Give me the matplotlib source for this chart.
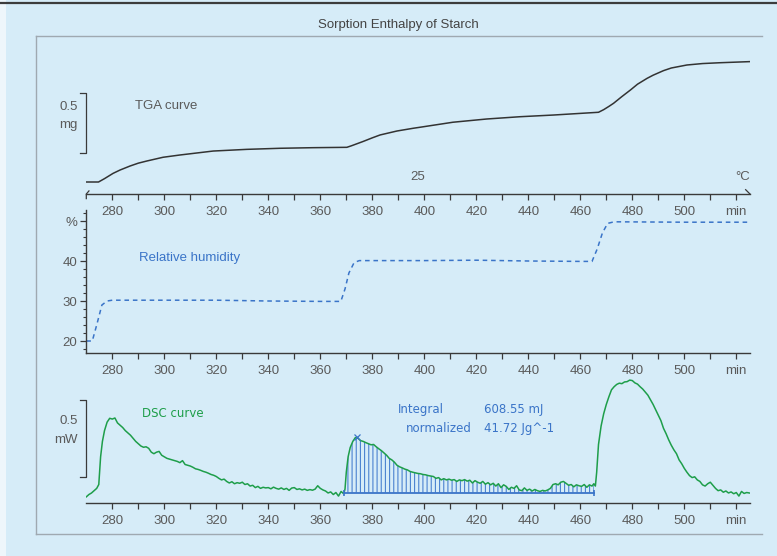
import numpy as np
import matplotlib
matplotlib.use("Agg")
import matplotlib.pyplot as plt
from matplotlib.lines import Line2D
from matplotlib.patches import Rectangle

plt.rcParams['font.family'] = ['Liberation Sans', 'DejaVu Sans']
plt.rcParams['hatch.linewidth'] = 0.8

# ---------------- data ----------------
tga_t = [270, 274.7, 277, 280.3, 283, 286.8, 290, 293.3, 299.5, 306, 318.8, 331.7, 344.5,
         357.3, 370.2, 372, 374, 376.5, 380, 383, 389.5, 395.8, 398.3, 411, 424, 436.8,
         449.6, 467, 469, 471, 472.8, 476, 479.3, 482, 485.7, 488, 492, 495, 501, 507,
         513.8, 525]
tga_mg = [0.0, 0.0, 0.028, 0.072, 0.100, 0.133, 0.157, 0.175, 0.206, 0.225, 0.258, 0.272,
          0.281, 0.286, 0.289, 0.302, 0.318, 0.338, 0.368, 0.392, 0.425, 0.448, 0.456,
          0.498, 0.525, 0.544, 0.558, 0.581, 0.603, 0.630, 0.656, 0.712, 0.767, 0.815,
          0.864, 0.890, 0.928, 0.950, 0.975, 0.987, 0.994, 1.003]

rh_t = [270, 272.3, 274, 276, 278, 280, 300, 320, 340, 360, 367.9, 369.5, 371, 373, 375,
        400, 420, 440, 460, 464.5, 466.5, 468.5, 470.5, 473, 500, 525]
rh_pct = [20, 20, 24, 29, 30.0, 30.2, 30.2, 30.2, 30.0, 29.9, 29.9, 33, 37, 39.6, 40.1,
          40.1, 40.2, 40.0, 39.9, 39.9, 43, 47, 49.4, 49.8, 49.7, 49.7]

dsc_t = [270, 271, 272, 273, 274, 274.8, 275.5, 276.2, 277, 278, 279, 280, 281, 282, 283,
         284, 285, 286, 287, 288, 289, 290, 291, 292, 293, 294, 295, 296, 297, 298, 299,
         300, 301, 302, 303, 304, 305, 306, 307, 308, 309, 310, 311, 312, 313, 314, 315,
         316, 317, 318, 319, 320, 321, 322, 323, 324, 325, 326, 327, 328, 329, 330, 331,
         332, 333, 334, 335, 336, 337, 338, 339, 340, 341, 342, 343, 344, 345, 346, 347,
         348, 349, 350, 351, 352, 353, 354, 355, 356, 357, 358, 359, 360, 361, 362, 363,
         364, 365, 366, 367, 368, 369, 369.5, 370, 370.7, 371.5, 372.5, 373.5, 374.5,
         375.5, 376.5, 377.5, 378.5, 379.5, 380.5, 381.5, 382.5, 383.5, 384.5, 385.5,
         386.5, 387.5, 388.5, 389.5, 390.5, 391.5, 392.5, 393.5, 394.5, 395.5, 396.5,
         397.5, 398.5, 399.5, 400.5, 401.5, 402.5, 403.5, 404.5, 405.5, 406.5, 407.5,
         408.5, 409.5, 410.5, 411.5, 412.5, 413.5, 414.5, 415.5, 416.5, 417.5, 418.5,
         419.5, 420.5, 421.5, 422.5, 423.5, 424.5, 425.5, 426.5, 427.5, 428.5, 429.5,
         430.5, 431.5, 432.5, 433.5, 434.5, 435.5, 436.5, 437.5, 438.5, 439.5, 440.5,
         441.5, 442.5, 443.5, 444.5, 445.5, 446.5, 447.5, 448.5, 449.5, 450.5, 451.5,
         452.5, 453.5, 454.5, 455.5, 456.5, 457.5, 458.5, 459.5, 460.5, 461.5, 462.5,
         463.5, 464.5, 465.2, 465.8, 466.3, 467, 468, 469, 470, 471, 472, 473, 474, 475,
         476, 477, 478, 479, 480, 481, 482, 483, 484, 485, 486, 487, 488, 489, 490, 491,
         492, 493, 494, 495, 496, 497, 498, 499, 500, 501, 502, 503, 504, 505, 506, 507,
         508, 509, 510, 511, 512, 513, 514, 515, 516, 517, 518, 519, 520, 521, 522, 523,
         524, 525]
dsc_mw = [0.040, 0.055, 0.065, 0.080, 0.095, 0.120, 0.300, 0.400, 0.470, 0.525, 0.550,
          0.545, 0.552, 0.520, 0.505, 0.490, 0.470, 0.455, 0.440, 0.420, 0.400, 0.385,
          0.370, 0.362, 0.365, 0.355, 0.330, 0.320, 0.330, 0.335, 0.310, 0.300, 0.290,
          0.285, 0.280, 0.275, 0.270, 0.262, 0.275, 0.250, 0.245, 0.240, 0.232, 0.222,
          0.218, 0.212, 0.205, 0.200, 0.193, 0.185, 0.180, 0.172, 0.160, 0.150, 0.155,
          0.140, 0.130, 0.138, 0.125, 0.132, 0.128, 0.135, 0.120, 0.125, 0.110, 0.115,
          0.100, 0.108, 0.095, 0.102, 0.098, 0.100, 0.092, 0.103, 0.095, 0.090, 0.098,
          0.088, 0.095, 0.082, 0.097, 0.100, 0.088, 0.092, 0.085, 0.090, 0.082, 0.087,
          0.083, 0.090, 0.112, 0.095, 0.085, 0.078, 0.065, 0.072, 0.055, 0.068, 0.045,
          0.075, 0.060, 0.090, 0.200, 0.300, 0.360, 0.400, 0.425, 0.420, 0.405, 0.400,
          0.392, 0.385, 0.378, 0.380, 0.365, 0.352, 0.340, 0.325, 0.310, 0.290, 0.280,
          0.265, 0.245, 0.235, 0.228, 0.220, 0.215, 0.205, 0.200, 0.196, 0.192, 0.190,
          0.185, 0.183, 0.178, 0.175, 0.172, 0.160, 0.165, 0.150, 0.158, 0.150, 0.155,
          0.148, 0.152, 0.140, 0.150, 0.145, 0.152, 0.142, 0.148, 0.130, 0.145, 0.135,
          0.128, 0.140, 0.122, 0.132, 0.118, 0.128, 0.110, 0.125, 0.100, 0.118, 0.108,
          0.088, 0.102, 0.095, 0.112, 0.085, 0.080, 0.098, 0.082, 0.090, 0.078, 0.088,
          0.080, 0.075, 0.082, 0.078, 0.085, 0.095, 0.120, 0.125, 0.118, 0.135, 0.140,
          0.128, 0.115, 0.120, 0.105, 0.118, 0.112, 0.108, 0.120, 0.102, 0.118, 0.110,
          0.125, 0.110, 0.200, 0.380, 0.500, 0.580, 0.640, 0.690, 0.735, 0.755, 0.770,
          0.778, 0.775, 0.786, 0.788, 0.798, 0.795, 0.780, 0.772, 0.755, 0.740, 0.720,
          0.700, 0.670, 0.640, 0.605, 0.570, 0.535, 0.485, 0.450, 0.410, 0.375, 0.345,
          0.320, 0.280, 0.255, 0.225, 0.200, 0.178, 0.165, 0.170, 0.150, 0.140, 0.118,
          0.110, 0.125, 0.135, 0.115, 0.095, 0.080, 0.085, 0.070, 0.078, 0.065, 0.072,
          0.060, 0.068, 0.045, 0.075, 0.062, 0.068, 0.065]

integral_start, integral_end = 369.2, 465.4
integral_base = 0.067
peak_t, peak_mw = 374.0, 0.428

x_ticks = [280, 300, 320, 340, 360, 380, 400, 420, 440, 460, 480, 500, 520]
x_tick_labels = ["280", "300", "320", "340", "360", "380", "400", "420", "440",
                 "460", "480", "500", "min"]
x_minor = [290, 310, 330, 350, 370, 390, 410, 430, 450, 470, 490, 510]
rh_ticks = [20, 30, 40, 50]
rh_tick_labels = ["20", "30", "40", "%"]
rh_minor = [18, 22, 24, 26, 28, 32, 34, 36, 38, 42, 44, 46, 48, 52]

title = "Sorption Enthalpy of Starch"

# ---------------- style ----------------
W, H = 777, 556
BG = "#d6ecf8"
TXT = "#5a5a5a"
AXC = "#3a3a3a"
FRAME = "#9fa9b1"
GREEN = "#1e9e4a"
BLUE = "#3a74c8"
HATCH = "#4a82d0"
FS = 9.5

fig = plt.figure(figsize=(W / 100, H / 100), dpi=100, facecolor=BG)

# figure decorations
fig.add_artist(Rectangle((0, 0), 6 / W, 1, transform=fig.transFigure,
                         facecolor="#eef6fb", edgecolor="none"))
fig.add_artist(Line2D([0, 1], [1 - 2.5 / H] * 2, color="#3c3c3c", lw=1.6))
fig.add_artist(Line2D([36 / W, 762 / W], [1 - 36 / H] * 2, color=FRAME, lw=1.0))
fig.add_artist(Line2D([36 / W, 36 / W], [1 - 36 / H, 1 - 534 / H], color=FRAME, lw=1.0))
fig.add_artist(Line2D([36 / W, 762 / W], [1 - 534 / H] * 2, color=FRAME, lw=1.0))
fig.text(398 / W, 1 - 25 / H, title, ha="center", va="center", fontsize=FS, color="#444444")

XL, XR = 86.3, 750.3
XLIM = (270, 270 + (XR - XL) / 2.6)


def px_axes(ytop, ybot):
    ax = fig.add_axes([XL / W, 1 - ybot / H, (XR - XL) / W, (ybot - ytop) / H])
    ax.set_facecolor("none")
    ax.set_xlim(*XLIM)
    for s in ax.spines.values():
        s.set_visible(False)
    ax.spines["bottom"].set_visible(True)
    ax.spines["bottom"].set_color(AXC)
    ax.spines["bottom"].set_linewidth(1.0)
    ax.set_xticks(x_ticks)
    ax.set_xticklabels(x_tick_labels)
    ax.set_xticks(x_minor, minor=True)
    ax.tick_params(axis="x", which="both", direction="out", length=4.0, width=0.9,
                   color=AXC, labelsize=FS, labelcolor=TXT, pad=4.5)
    ax.set_yticks([])
    return ax


# ---------- TGA ----------
ax1 = px_axes(40, 194)
ax1.set_ylim(-0.1, (182 - 40) / 120)
ax1.plot(tga_t, tga_mg, color="#333333", lw=1.1)
ax1.plot([267.6, 269.9, 269.9, 267.6], [0.242, 0.242, 0.742, 0.742], color=AXC, lw=0.9,
         clip_on=False)
ax1.text(266.8, 0.625, "0.5", ha="right", va="center", fontsize=FS, color=TXT)
ax1.text(266.8, 0.475, "mg", ha="right", va="center", fontsize=FS, color=TXT)
ax1.text(288.8, 0.633, "TGA curve", ha="left", va="center", fontsize=FS, color=TXT)
ax1.text(397.6, 0.042, "25", ha="center", va="center", fontsize=FS, color=TXT)
ax1.text(522.5, 0.042, "°C", ha="center", va="center", fontsize=FS, color=TXT)
# axis end marks
ax1.plot([0.0, 0.0, 0.004], [-0.03, 0.0, 0.02], transform=ax1.transAxes, color=AXC,
         lw=0.9, clip_on=False)
ax1.plot([0.993, 0.9995], [0.028, 0.0], transform=ax1.transAxes, color=AXC, lw=0.9,
         clip_on=False)

# ---------- Relative humidity ----------
ax2 = px_axes(210, 353)
ax2.set_ylim(17, 52.75)
ax2.plot(rh_t, rh_pct, color=BLUE, lw=1.1, dashes=(3, 2.5))
ax2.spines["left"].set_visible(True)
ax2.spines["left"].set_color(AXC)
ax2.spines["left"].set_linewidth(1.0)
ax2.set_yticks(rh_ticks)
ax2.set_yticklabels(rh_tick_labels)
ax2.set_yticks(rh_minor, minor=True)
ax2.tick_params(axis="y", which="major", direction="out", length=4.5, width=0.9,
                color=AXC, labelsize=FS, labelcolor=TXT, pad=2)
ax2.tick_params(axis="y", which="minor", direction="out", length=2.5, width=0.8, color=AXC)
ax2.text(290.1, 40.75, "Relative humidity", ha="left", va="center", fontsize=FS, color=BLUE)

# ---------- DSC ----------
ax3 = px_axes(376, 503)
ax3.set_ylim(0, (503 - 376) / 154)
t_arr = np.array(dsc_t)
m_arr = np.array(dsc_mw)
mask = (t_arr >= integral_start) & (t_arr <= integral_end)
ax3.fill_between(t_arr[mask], integral_base, m_arr[mask], facecolor="none",
                 edgecolor=HATCH, hatch="||||", linewidth=0)
ax3.plot(dsc_t, dsc_mw, color=GREEN, lw=1.1)
ax3.plot([integral_start, integral_end], [integral_base, integral_base], color=BLUE, lw=1.3)
ax3.plot([integral_start, integral_end], [integral_base, integral_base], ls="none",
         marker="|", ms=4, mew=1.2, color=BLUE)
ax3.plot([peak_t], [peak_mw], marker="x", ms=5, mew=0.9, color=BLUE, ls="none")
ax3.plot([267.6, 269.9, 269.9, 267.6], [0.169, 0.169, 0.669, 0.669], color=AXC, lw=0.9,
         clip_on=False)
ax3.text(266.8, 0.532, "0.5", ha="right", va="center", fontsize=FS, color=TXT)
ax3.text(266.8, 0.409, "mW", ha="right", va="center", fontsize=FS, color=TXT)
ax3.text(291.5, 0.578, "DSC curve", ha="left", va="center", fontsize=8.5, color=GREEN,
         family="DejaVu Sans")
ax3.text(390.0, 0.604, "Integral", ha="left", va="center", fontsize=8.5, color=BLUE,
         family="DejaVu Sans")
ax3.text(418.3, 0.487, "normalized", ha="right", va="center", fontsize=8.5, color=BLUE,
         family="DejaVu Sans")
ax3.text(423.0, 0.604, "608.55 mJ", ha="left", va="center", fontsize=8.5, color=BLUE,
         family="DejaVu Sans")
ax3.text(423.0, 0.487, "41.72 Jg^-1", ha="left", va="center", fontsize=8.5, color=BLUE,
         family="DejaVu Sans")

fig.savefig("out.png", dpi=100, facecolor=BG)
